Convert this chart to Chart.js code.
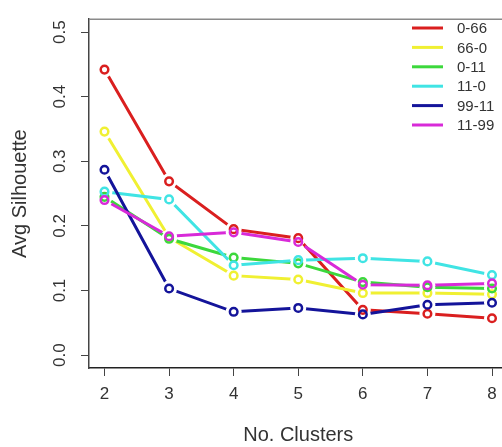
<!DOCTYPE html>
<html>
<head>
<meta charset="utf-8">
<script src="https://cdn.jsdelivr.net/npm/chart.js@4/dist/chart.umd.min.js"></script>
<style>
  html, body { margin: 0; padding: 0; background: #ffffff; overflow: hidden; width: 502px; height: 447px; }
  canvas { display: block; }
</style>
</head>
<body>
<canvas id="c" width="520" height="447"></canvas>
<script>
// ---- data ----
const clusters = [2, 3, 4, 5, 6, 7, 8];
const seriesNames = ["0-66", "66-0", "0-11", "11-0", "99-11", "11-99"];
const s0_66   = [0.442, 0.269, 0.195, 0.181, 0.070, 0.064, 0.057];
const s66_0   = [0.346, 0.182, 0.123, 0.117, 0.096, 0.096, 0.094];
const s0_11   = [0.245, 0.180, 0.151, 0.142, 0.113, 0.105, 0.103];
const s11_0   = [0.253, 0.241, 0.139, 0.147, 0.150, 0.145, 0.124];
const s99_11  = [0.287, 0.103, 0.067, 0.073, 0.063, 0.078, 0.081];
const s11_99  = [0.240, 0.184, 0.190, 0.175, 0.109, 0.108, 0.111];
const xTickValues = [2, 3, 4, 5, 6, 7, 8];
const yTickValues = [0.0, 0.1, 0.2, 0.3, 0.4, 0.5];

const seriesValues = [s0_66, s66_0, s0_11, s11_0, s99_11, s11_99];
const colors = ["#da1f1f", "#f0f032", "#3cd83c", "#40e4e4", "#14149a", "#d82ad8"];

const FONT = "'Liberation Sans', Arial, Helvetica, sans-serif";

const datasets = seriesValues.map((vals, i) => ({
  label: seriesNames[i],
  data: vals.map((v, j) => ({ x: clusters[j], y: v })),
  borderColor: colors[i],
  backgroundColor: colors[i],
  borderWidth: 3,
  pointRadius: 3.8,
  pointBorderWidth: 2.5,
  pointBackgroundColor: "rgba(255,255,255,0)",
  pointBorderColor: colors[i],
  tension: 0,
  order: seriesValues.length - i
}));

// R type="b": the connecting lines stop short of each point
const GAP = 8;
const gapPlugin = {
  id: "typeB",
  beforeDatasetDraw(chart, args) {
    const { ctx } = chart;
    ctx.save();
    ctx.beginPath();
    ctx.rect(0, 0, chart.width, chart.height);
    args.meta.data.forEach(p => {
      ctx.moveTo(p.x + GAP, p.y);
      ctx.arc(p.x, p.y, GAP, 0, Math.PI * 2, true);
    });
    ctx.clip("evenodd");
  },
  afterDatasetDraw(chart, args) {
    const { ctx } = chart;
    ctx.restore();
    args.meta.data.forEach(p => p.draw(ctx, chart.chartArea));
  }
};

const boxPlugin = {
  id: "boxTop",
  beforeDatasetsDraw(chart) {
    const { ctx, chartArea } = chart;
    ctx.save();
    ctx.strokeStyle = "#8a8a8a";
    ctx.lineWidth = 1.5;
    ctx.beginPath();
    ctx.moveTo(chartArea.left, chartArea.top);
    ctx.lineTo(chartArea.right + 5, chartArea.top);
    ctx.stroke();
    ctx.restore();
  }
};

const legendPlugin = {
  id: "insideLegend",
  afterDatasetsDraw(chart) {
    const { ctx } = chart;
    const x0 = 412, x1 = 443, tx = 457, y0 = 28, dy = 19.4;
    ctx.save();
    ctx.font = "15px " + FONT;
    ctx.textBaseline = "middle";
    ctx.textAlign = "left";
    chart.data.datasets.forEach((ds, i) => {
      const y = y0 + i * dy;
      ctx.strokeStyle = ds.borderColor;
      ctx.lineWidth = 3;
      ctx.beginPath();
      ctx.moveTo(x0, y);
      ctx.lineTo(x1, y);
      ctx.stroke();
      ctx.fillStyle = "#333333";
      ctx.fillText(ds.label, tx, y + 1);
    });
    ctx.restore();
  }
};

new Chart(document.getElementById("c"), {
  type: "line",
  data: { datasets },
  plugins: [gapPlugin, boxPlugin, legendPlugin],
  options: {
    responsive: false,
    animation: false,
    layout: { padding: { left: 0, top: 8, right: 12.5, bottom: 0 } },
    plugins: { legend: { display: false }, tooltip: { enabled: false } },
    scales: {
      x: {
        type: "linear",
        min: 1.76,
        max: 8.24,
        afterBuildTicks: (scale) => { scale.ticks = xTickValues.map(v => ({ value: v })); },
        afterFit: (scale) => { scale.height = 79; },
        grid: { display: true, drawOnChartArea: false, drawTicks: true, tickLength: 8, tickColor: "#444", tickWidth: 1 },
        border: { display: true, color: "#222", width: 1.5 },
        ticks: { font: { size: 17, family: FONT }, color: "#333", padding: 8, maxRotation: 0, minRotation: 0, callback: (v) => String(v) },
        title: { display: true, text: "No. Clusters", font: { size: 20, family: FONT }, color: "#333", padding: { top: 0, bottom: 0 } }
      },
      y: {
        type: "linear",
        min: -0.02,
        max: 0.52,
        afterBuildTicks: (scale) => { scale.ticks = yTickValues.map(v => ({ value: v })); },
        afterFit: (scale) => { scale.width = 89; },
        grid: { display: true, drawOnChartArea: false, drawTicks: true, tickLength: 8, tickColor: "#444", tickWidth: 1 },
        border: { display: true, color: "#444", width: 1.5 },
        ticks: { font: { size: 17, family: FONT }, color: "#333", padding: 9, minRotation: 90, maxRotation: 90, crossAlign: "center", callback: (v) => Number(v).toFixed(1) },
        title: { display: true, text: "Avg Silhouette", font: { size: 20, family: FONT }, color: "#333", padding: { top: 8, bottom: 0 } }
      }
    }
  }
});
</script>
</body>
</html>
